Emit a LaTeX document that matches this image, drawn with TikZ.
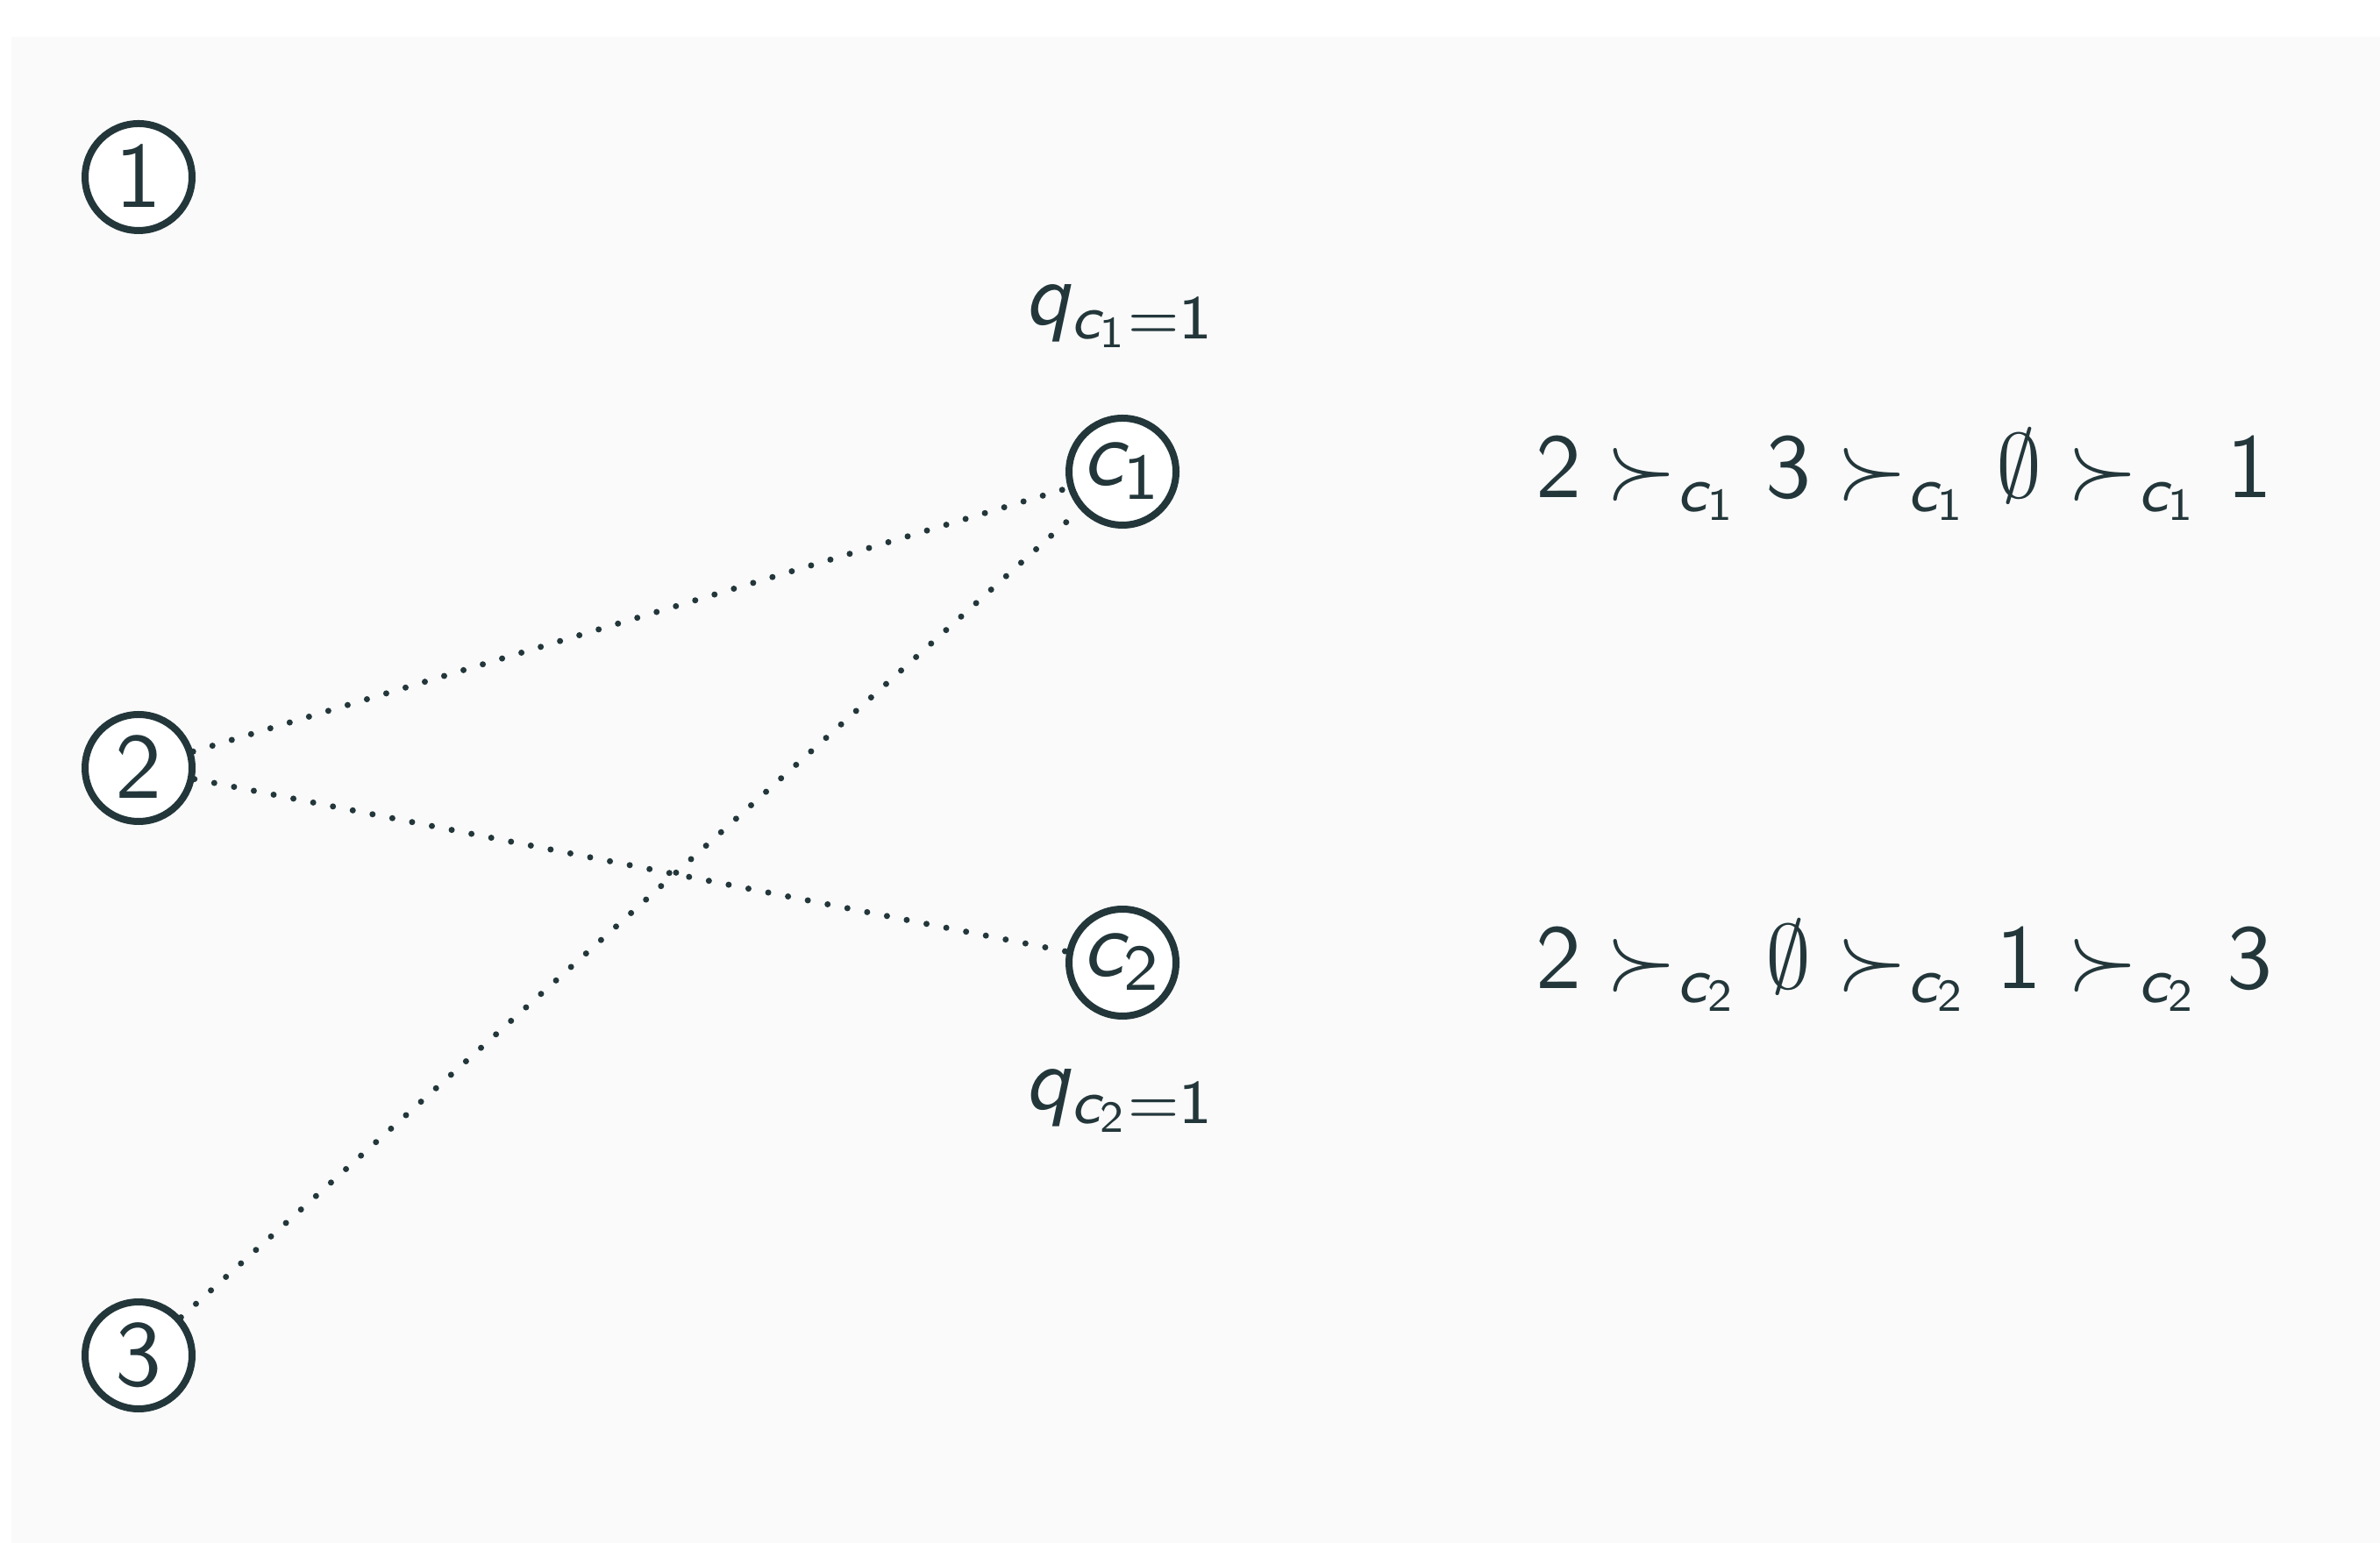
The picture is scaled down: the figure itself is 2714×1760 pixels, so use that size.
\RequirePackage{fix-cm}
\documentclass[tikz,border=0pt]{standalone}
\usepackage{amsmath}
\DeclareSymbolFont{operators}{OT1}{cmss}{m}{n}
\DeclareSymbolFont{sfletters}{OT1}{cmss}{m}{sl}
\DeclareMathSymbol{q}{\mathalpha}{sfletters}{`q}
\DeclareMathSymbol{c}{\mathalpha}{sfletters}{`c}
\definecolor{fg}{HTML}{23373B}
\definecolor{bgc}{HTML}{FAFAFA}
\begin{document}
\begin{tikzpicture}[x=0.1pt,y=-0.1pt,
  vtx/.style={circle,draw=fg,fill=white,line width=0.8pt,minimum size=12.2pt,inner sep=0pt,text=fg,font=\fontsize{10.6}{12}\selectfont},
  link/.style={draw=fg,line width=0.7pt,line cap=round,dash pattern=on 0pt off 2.3pt},
  lbl/.style={text=fg,inner sep=0pt,anchor=base},
  qlbl/.style={lbl,font=\fontsize{10.1}{12}\selectfont},
  pref/.style={lbl,font=\fontsize{10.4}{13}\selectfont}]
\useasboundingbox (0,0) rectangle (2714,1760);
\fill[bgc] (13,42) rectangle (2714,1760);
\node[vtx] (n1) at (158,202) {$1$};
\node[vtx] (n2) at (158,876) {$2$};
\node[vtx] (n3) at (158,1546) {$3$};
\node[vtx] (c1) at (1280,538) {$c_1$};
\node[vtx] (c2) at (1280,1098) {$c_2$};
\node[qlbl] (q1) at (1278,371) {$q_{c_1=1}$};
\node[qlbl] (q2) at (1278,1266) {$q_{c_2=1}$};
\node[pref] (p1) at (2171,568) {$2\succ_{c_1}3\succ_{c_1}\emptyset\succ_{c_1}1$};
\node[pref] (p2) at (2171,1128) {$2\succ_{c_2}\emptyset\succ_{c_2}1\succ_{c_2}3$};
\draw[link] (n2) -- (c1);
\draw[link] (n2) -- (c2);
\draw[link] (n3) -- (c1);
\end{tikzpicture}
\end{document}
